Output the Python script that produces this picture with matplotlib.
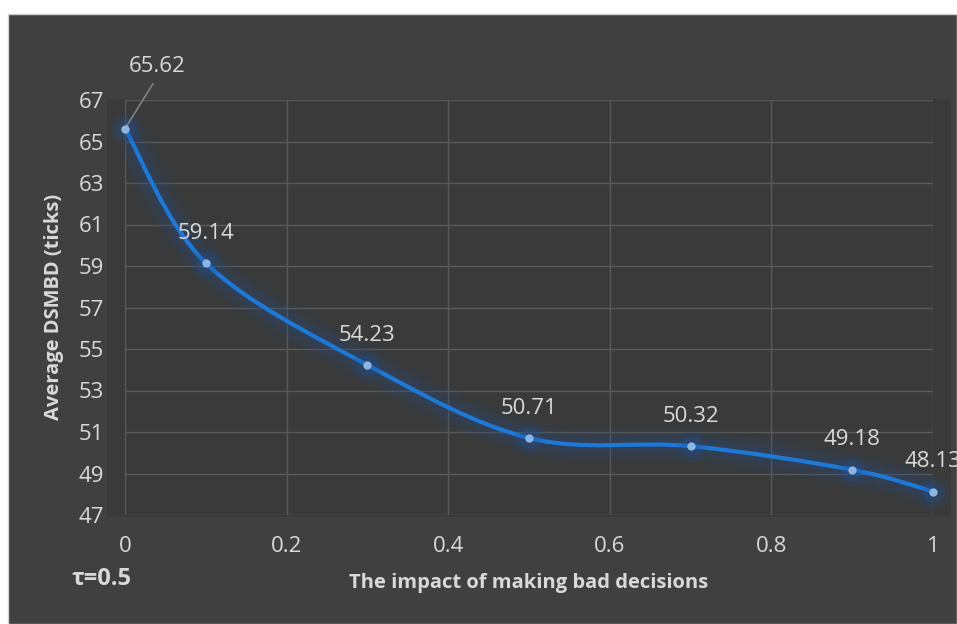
import numpy as np
import matplotlib
matplotlib.use("Agg")
from matplotlib import pyplot as plt
from matplotlib.path import Path
from matplotlib.patches import PathPatch, Rectangle

plt.rcParams['font.family'] = ['Open Sans', 'DejaVu Sans']

# data
impact = [0, 0.1, 0.3, 0.5, 0.7, 0.9, 1]
dsmbd = [65.62, 59.14, 54.23, 50.71, 50.32, 49.18, 48.13]
x_ticks = [0, 0.2, 0.4, 0.6, 0.8, 1]
x_labels = ['0', '0.2', '0.4', '0.6', '0.8', '1']
y_ticks = [47, 49, 51, 53, 55, 57, 59, 61, 63, 65, 67]

txt = '#d9d9d9'
bg = '#404040'

fig = plt.figure(figsize=(9.57, 6.24), dpi=100, facecolor='white')
# dark chart area with thin light border, like the excel export
fig.patches.append(Rectangle((8 / 957, 0), 949 / 957, 610 / 624, transform=fig.transFigure,
                             facecolor=bg, edgecolor='#d0d0d0', linewidth=1, zorder=0))
fig.patches.append(Rectangle((107 / 957, 107 / 624), 844 / 957, 418 / 624, transform=fig.transFigure,
                             facecolor='#3a3a3a', edgecolor='none', zorder=0))

ax = fig.add_axes([125 / 957, 109 / 624, 808 / 957, 415 / 624], zorder=2)
ax.set_facecolor('none')
ax.set_xlim(0, 1)
ax.set_ylim(47, 67)
ax.set_xticks(x_ticks)
ax.set_xticklabels(x_labels)
ax.set_yticks(y_ticks)
ax.grid(True, color='#5a5a5a', linewidth=1)
ax.set_axisbelow(True)
for s in ax.spines.values():
    s.set_visible(False)
ax.tick_params(length=0, colors=txt, labelsize=16, pad=15)

# smoothed line (bezier through the points, excel style)
pts = np.column_stack([impact, dsmbd])
p = np.vstack([pts[0], pts, pts[-1]])
verts = [tuple(pts[0])]
codes = [Path.MOVETO]
for i in range(1, len(p) - 2):
    c1 = p[i] + (p[i + 1] - p[i - 1]) / 6
    c2 = p[i + 1] - (p[i + 2] - p[i]) / 6
    verts += [tuple(c1), tuple(c2), tuple(p[i + 1])]
    codes += [Path.CURVE4] * 3
path = Path(verts, codes)

# glow, a bit darker and wider
for lw, a in [(28, 0.05), (21, 0.07), (15, 0.09), (9, 0.13)]:
    ax.add_patch(PathPatch(path, facecolor='none', edgecolor='#1d4f94', linewidth=lw,
                           alpha=a, capstyle='round', joinstyle='round', zorder=2))
ax.add_patch(PathPatch(path, facecolor='none', edgecolor='#1e78d6', linewidth=3,
                       capstyle='round', zorder=3))
ax.scatter(impact, dsmbd, s=480, color='#1d4f94', alpha=0.15, linewidths=0, zorder=3, clip_on=False)
ax.scatter(impact, dsmbd, s=220, color='#1f5aa8', alpha=0.2, linewidths=0, zorder=3, clip_on=False)
ax.scatter(impact, dsmbd, s=36, color='#8db4e2', linewidths=0, zorder=4, clip_on=False)

# data labels
for i, (xv, yv) in enumerate(zip(impact, dsmbd)):
    if i == 0:
        ax.annotate(f'{yv:.2f}', (xv, yv), xytext=(23, 44.5), textcoords='offset points',
                    ha='center', va='center', color=txt, fontsize=16,
                    arrowprops=dict(arrowstyle='-', color='#8c8c8c', lw=1, relpos=(0.5, 0),
                                    shrinkA=3, shrinkB=0))
    else:
        # last label runs off the right edge, same as the reference
        ax.annotate(f'{yv:.2f}', (xv, yv), xytext=(0, 21.5), textcoords='offset points',
                    ha='center', va='center', color=txt, fontsize=16, annotation_clip=False)

fig.text(54 / 957, 1 - 307 / 624, 'Average DSMBD (ticks)', rotation=90, ha='center', va='center',
         color=txt, fontsize=14.5, fontweight='bold')
fig.text(529 / 957, 1 - 583 / 624, 'The impact of making bad decisions', ha='center', va='center',
         color=txt, fontsize=14.5, fontweight='bold')
fig.text(102 / 957, 1 - 579 / 624, 'τ=0.5', ha='center', va='center',
         color=txt, fontsize=17, fontweight='bold')

plt.savefig('out.png', dpi=100, facecolor=fig.get_facecolor())
